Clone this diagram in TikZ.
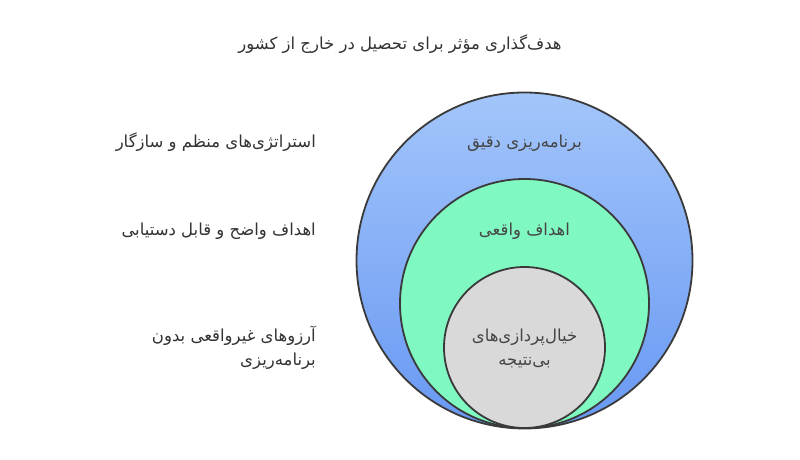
\documentclass[tikz,border=0pt]{standalone}
\usepackage{fontspec}
\TeXXeTstate=1
\newfontfamily\arabicfont[Script=Arabic]{DejaVu Sans}
\definecolor{edge}{HTML}{3A3A3A}
\definecolor{bluetop}{HTML}{A2C5FA}
\definecolor{bluebot}{HTML}{6898F3}
\definecolor{greenf}{HTML}{80F8C2}
\definecolor{grayf}{HTML}{D9D9D9}
\definecolor{txt}{HTML}{333333}
\definecolor{intxt}{HTML}{454545}
\tikzset{
  ring/.style={circle, draw=edge, line width=1.8pt, inner sep=0pt},
  lbl/.style={font=\arabicfont\fontsize{16.5}{24}\selectfont, text=txt, align=right, inner sep=0pt},
  inlbl/.style={font=\arabicfont\fontsize{16.5}{24}\selectfont, text=intxt, align=center, inner sep=0pt},
}
\begin{document}
\begin{tikzpicture}[x=1pt,y=-1pt]
\useasboundingbox[fill=white] (0,0) rectangle (800,460);
\node[ring, minimum size=336pt, top color=bluetop, bottom color=bluebot] (outer) at (524.5,260.5) {};
\node[ring, minimum size=249pt, fill=greenf] (mid) at (524.5,303.5) {};
\node[ring, minimum size=161pt, fill=grayf] (inner) at (524.5,347.5) {};
\node[lbl, anchor=center] (title) at (400,44) {\beginR هدف‌گذاری مؤثر برای تحصیل در خارج از کشور\endR};
\node[lbl, anchor=east] (l1) at (316,142) {\beginR استراتژی‌های منظم و سازگار\endR};
\node[lbl, anchor=east] (l2) at (316,231) {\beginR اهداف واضح و قابل دستیابی\endR};
\node[lbl, anchor=east] (l3) at (316,348) {\beginR آرزوهای غیرواقعی بدون\endR\\\beginR برنامه‌ریزی\endR};
\node[inlbl] (c1) at (524.5,143) {\beginR برنامه‌ریزی دقیق\endR};
\node[inlbl] (c2) at (524.5,231) {\beginR اهداف واقعی\endR};
\node[inlbl] (c3) at (524.5,348) {\beginR خیال‌پردازی‌های\endR\\\beginR بی‌نتیجه\endR};
\end{tikzpicture}
\end{document}
